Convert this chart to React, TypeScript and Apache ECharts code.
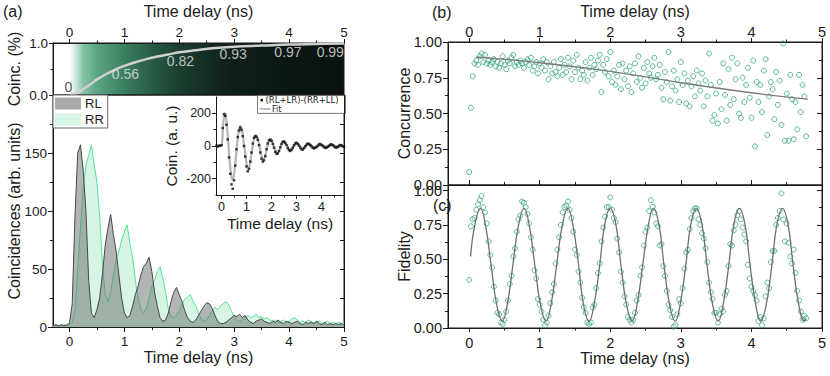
import { useEffect, useRef } from "react";
import * as echarts from "echarts";

const FONT = "'Liberation Sans', Arial, Helvetica, sans-serif";
const INK = "#1a1a1a";
const TEAL = "#33a57f";

// ---------- (a) top strip: coherence build-up ----------
const STRIP_T = [0, 0.1, 0.2, 0.3, 0.4, 0.5, 0.6, 0.7, 0.8, 0.9, 1.0, 1.2, 1.4, 1.6, 1.8, 2.0, 2.3, 2.6, 3.0, 3.5, 4.0, 4.5, 5.0];
const STRIP_V = [0, 0.02, 0.08, 0.15, 0.22, 0.3, 0.36, 0.42, 0.47, 0.52, 0.56, 0.63, 0.69, 0.74, 0.78, 0.82, 0.86, 0.9, 0.93, 0.95, 0.97, 0.98, 0.99];
const STRIP_LABELS = ["0", "0.56", "0.82", "0.93", "0.97", "0.99"];
const STRIP_LABEL_T = [-0.02, 1.02, 2.02, 2.98, 3.98, 4.75];
const STRIP_LABEL_V = [0.15, 0.4, 0.66, 0.79, 0.83, 0.83];

// ---------- (a) histograms ----------
const HIST_T0 = -0.3;
const HIST_DT = 0.05;
const RL = [
  1, 2, 1, 2, 1, 2, 3, 20, 95, 150,
  157, 135, 100, 40, 12, 8, 15, 25, 45, 70,
  85, 97, 80, 65, 45, 25, 12, 8, 10, 18,
  28, 35, 45, 52, 55, 60, 48, 30, 18, 8,
  5, 6, 12, 22, 30, 34, 28, 22, 14, 8,
  5, 4, 6, 10, 14, 18, 21, 20, 16, 10,
  5, 3, 3, 4, 6, 8, 10, 9, 11, 8,
  10, 6, 4, 3, 5, 6, 7, 5, 4, 3,
  5, 4, 6, 4, 3, 5, 4, 3, 4, 5,
  3, 2, 4, 3, 4, 3, 5, 3, 2, 4,
  2, 3, 2, 3, 2, 3, 2,
];
const RR = [
  1, 2, 1, 1, 2, 1, 2, 4, 15, 50,
  85, 120, 140, 148, 157, 140, 125, 95, 55, 28,
  22, 30, 45, 58, 65, 75, 82, 88, 72, 60,
  40, 25, 15, 12, 16, 25, 35, 40, 48, 52,
  42, 30, 16, 9, 8, 10, 14, 20, 24, 26,
  28, 22, 18, 12, 7, 5, 6, 10, 14, 17,
  15, 18, 20, 22, 19, 14, 9, 6, 5, 6,
  8, 10, 8, 9, 11, 8, 9, 7, 8, 6,
  5, 6, 4, 5, 6, 4, 5, 7, 8, 6,
  4, 5, 4, 6, 5, 3, 4, 5, 3, 4,
  5, 3, 4, 3, 4, 3, 4,
];

// ---------- (a) inset ----------
const INSET_T0 = -0.2;
const INSET_DT = 0.05;
const DIFF = [
  2, -3, 1, 3, 5,
  110, 195, 185, 130, 40, -70, -170, -235, -262, -210,
  -120, -20, 55, 95, 112, 98, 60, 0, -65, -125,
  -155, -140, -95, -40, 15, 50, 60, 55, 38, 5,
  -40, -78, -95, -88, -62, -20, 15, 35, 38, 30,
  12, -10, -35, -48, -45, -30, -8, 12, 25, 28,
  18, 5, -12, -25, -30, -22, -10, 5, 15, 20,
  12, 2, -10, -20, -22, -12, -2, 8, 15, 12,
  5, -2, -10, -15, -10, -5, 2, 10, 12, 6,
  0, -6, -12, -10, -4, 2, 8, 10, 5, -2,
  -8, -10, -5, 2, 6, 4, -2, -4,
];
const DIFF_FIT = [
  0, 0, 0, 0, 0,
  90, 185, 200, 150, 60, -40, -130, -190, -205, -175,
  -110, -30, 45, 100, 120, 110, 70, 10, -50, -105,
  -135, -130, -100, -50, 5, 45, 65, 65, 45, 15,
  -25, -60, -78, -78, -58, -25, 10, 32, 42, 38,
  22, -2, -25, -40, -42, -32, -12, 8, 22, 27,
  22, 10, -6, -20, -26, -24, -14, 0, 12, 18,
  16, 8, -4, -14, -18, -15, -7, 3, 11, 13,
  10, 3, -5, -10, -12, -9, -3, 4, 8, 9,
  6, 1, -4, -7, -7, -4, 0, 4, 6, 5,
  2, -2, -5, -5, -3, 0, 3, 4,
];

// ---------- (b) concurrence, (c) fidelity ----------
const POINT_T0 = 0;
const POINT_DT = 0.025;
const CONC = [
  0.09, 0.54, 0.76, 0.85, 0.87, 0.84, 0.9, 0.92, 0.86, 0.91,
  0.85, 0.87, 0.84, 0.86, 0.88, 0.83, 0.86, 0.82, 0.85, 0.9,
  0.84, 0.81, 0.87, 0.85, 0.89, 0.91, 0.83, 0.86, 0.84, 0.87,
  0.85, 0.82, 0.86, 0.88, 0.84, 0.89, 0.8, 0.83, 0.86, 0.78,
  0.85, 0.82, 0.88, 0.8, 0.86, 0.74, 0.83, 0.78, 0.86, 0.79,
  0.76, 0.82, 0.88, 0.77, 0.84, 0.79, 0.89, 0.83, 0.74, 0.87,
  0.79, 0.91, 0.82, 0.74, 0.8, 0.77, 0.86, 0.73, 0.82, 0.89,
  0.77, 0.84, 0.81, 0.87, 0.91, 0.65, 0.84, 0.79, 0.88, 0.76,
  0.93, 0.72, 0.8, 0.7, 0.76, 0.84, 0.67, 0.85, 0.74, 0.8,
  0.69, 0.83, 0.65, 0.78, 0.85, 0.72, 0.9, 0.75, 0.68, 0.82,
  0.71, 0.86, 0.78, 0.75, 0.83, 0.89, 0.74, 0.77, 0.84, 0.68,
  0.6, 0.79, 0.72, 0.93, 0.59, 0.69, 0.8, 0.66, 0.74, 0.58,
  0.86, 0.7, 0.78, 0.57, 0.73, 0.55, 0.69, 0.76, 0.62, 0.8,
  0.71, 0.66, 0.78, 0.55, 0.73, 0.62, 0.92, 0.7, 0.45, 0.49,
  0.64, 0.43, 0.72, 0.53, 0.85, 0.63, 0.45, 0.81, 0.56, 0.89,
  0.6, 0.74, 0.85, 0.5, 0.47, 0.75, 0.58, 0.7, 0.82, 0.61,
  0.47, 0.87, 0.27, 0.72, 0.58, 0.7, 0.51, 0.8, 0.88, 0.35,
  0.62, 0.72, 0.67, 0.46, 0.79, 0.56, 0.73, 0.42, 0.99, 0.31,
  0.64, 0.31, 0.77, 0.6, 0.32, 0.58, 0.39, 0.77, 0.51, 0.7,
  0.62, 0.34,
];
const CONC_FIT_T = [0.1, 1, 2, 3, 4, 4.8];
const CONC_FIT_V = [0.895, 0.855, 0.795, 0.715, 0.645, 0.6];

const FID = [
  0.35, 0.74, 0.79, 0.8, 0.86, 0.9, 0.93, 0.96, 0.88, 0.84,
  0.76, 0.63, 0.53, 0.44, 0.3, 0.2, 0.11, 0.1, 0.04, 0.03,
  0.06, 0.12, 0.2, 0.32, 0.38, 0.52, 0.58, 0.7, 0.79, 0.82,
  0.92, 0.91, 0.88, 0.83, 0.76, 0.66, 0.57, 0.42, 0.36, 0.21,
  0.17, 0.12, 0.06, 0.02, 0.04, 0.09, 0.18, 0.26, 0.32, 0.47,
  0.57, 0.66, 0.75, 0.84, 0.88, 0.89, 0.92, 0.86, 0.8, 0.7,
  0.57, 0.53, 0.41, 0.33, 0.22, 0.15, 0.11, 0.04, 0.03, 0.04,
  0.15, 0.17, 0.29, 0.4, 0.47, 0.63, 0.73, 0.81, 0.88, 0.88,
  0.95, 0.86, 0.8, 0.77, 0.65, 0.55, 0.41, 0.33, 0.23, 0.17,
  0.08, 0.06, 0.04, 0.06, 0.11, 0.2, 0.24, 0.38, 0.44, 0.6,
  0.7, 0.73, 0.85, 0.93, 0.88, 0.84, 0.76, 0.74, 0.6, 0.61,
  0.45, 0.38, 0.27, 0.17, 0.13, 0.08, 0.01, 0.02, 0.1, 0.21,
  0.18, 0.29, 0.43, 0.55, 0.57, 0.72, 0.8, 0.85, 0.87, 0.87,
  0.79, 0.75, 0.69, 0.65, 0.58, 0.48, 0.33, 0.26, 0.21, 0.11,
  0.11, 0.04, 0.1, 0.14, 0.12, 0.24, 0.27, 0.45, 0.61, 0.6,
  0.71, 0.75, 0.82, 0.85, 0.79, 0.73, 0.68, 0.63, 0.46, 0.36,
  0.3, 0.27, 0.24, 0.2, 0.05, 0.08, 0.02, 0.07, 0.23, 0.33,
  0.29, 0.48, 0.56, 0.56, 0.75, 0.8, 0.85, 0.98, 0.79, 0.63,
  0.76, 0.62, 0.52, 0.47, 0.57, 0.4, 0.27, 0.2, 0.12, 0.06,
  0.09, 0.07,
];
const FID_FIT_T = [
  0.02, 0.08, 0.16, 0.23, 0.31, 0.39, 0.47, 0.54, 0.62, 0.7,
  0.78, 0.85, 0.93, 1.01, 1.09, 1.16, 1.24, 1.32, 1.4, 1.47,
  1.55, 1.62, 1.7, 1.77, 1.85, 1.92, 2.0, 2.08, 2.15, 2.23,
  2.31, 2.38, 2.46, 2.54, 2.61, 2.69, 2.76, 2.84, 2.92, 2.99,
  3.07, 3.14, 3.22, 3.3, 3.37, 3.45, 3.53, 3.6, 3.68, 3.75,
  3.83, 3.91, 3.98, 4.06, 4.13, 4.21, 4.29, 4.36, 4.44, 4.52,
  4.59, 4.67, 4.75, 4.78,
];
const FID_FIT_V = [
  0.52, 0.75, 0.87, 0.75, 0.46, 0.17, 0.05, 0.17, 0.46, 0.75,
  0.87, 0.75, 0.46, 0.17, 0.05, 0.17, 0.46, 0.75, 0.87, 0.75,
  0.46, 0.17, 0.05, 0.17, 0.46, 0.75, 0.87, 0.75, 0.46, 0.17,
  0.05, 0.17, 0.46, 0.75, 0.87, 0.75, 0.46, 0.17, 0.05, 0.17,
  0.46, 0.75, 0.87, 0.75, 0.46, 0.17, 0.05, 0.17, 0.46, 0.75,
  0.87, 0.75, 0.46, 0.17, 0.05, 0.17, 0.46, 0.75, 0.87, 0.75,
  0.46, 0.17, 0.05, 0.07,
];

// tick sets
const X_MAJOR = [0, 1, 2, 3, 4, 5];
const X_MINOR = [0.5, 1.5, 2.5, 3.5, 4.5];
const Y01_MAJOR = [0, 0.25, 0.5, 0.75, 1];
const Y01_MINOR = [0.125, 0.375, 0.625, 0.875];

const grid = (t0: number, dt: number, vals: number[]) =>
  vals.map((v, i) => [+(t0 + i * dt).toFixed(4), v]);
const zip = (a: number[], b: number[]) => a.map((x, i) => [x, b[i]]);

type AxSpec = {
  grid: number;
  pos: string;
  min: number;
  max: number;
  ticks?: number[];
  tickLen?: number;
  inside?: boolean;
  minor?: number[];
  minorLen?: number;
  labels?: number[];
  fmt?: (v: number) => string;
  fontSize?: number;
  margin?: number;
  name?: string;
  nameGap?: number;
  nameSize?: number;
  line?: boolean;
};

function buildAxes(s: AxSpec): any[] {
  const common = {
    type: "value",
    gridIndex: s.grid,
    position: s.pos,
    min: s.min,
    max: s.max,
    splitLine: { show: false },
    silent: true,
  };
  const out: any[] = [
    {
      ...common,
      axisLine: { show: s.line !== false, onZero: false, lineStyle: { color: INK, width: 1 } },
      axisTick: {
        show: !!s.ticks,
        inside: !!s.inside,
        length: s.tickLen ?? 4,
        customValues: s.ticks ?? [0],
        lineStyle: { color: INK, width: 1 },
      },
      axisLabel: {
        show: !!s.labels,
        customValues: s.labels ?? [0],
        formatter: s.fmt ?? ((v: number) => String(v)),
        fontSize: s.fontSize ?? 13,
        color: INK,
        fontFamily: FONT,
        margin: s.margin ?? 6,
      },
      name: s.name,
      nameLocation: "middle",
      nameGap: s.nameGap ?? 25,
      nameMoveOverlap: false,
      nameTextStyle: { fontSize: s.nameSize ?? 16, color: INK, fontFamily: FONT },
    },
  ];
  if (s.minor) {
    out.push({
      ...common,
      axisLine: { show: false, onZero: false },
      axisTick: {
        show: true,
        inside: !!s.inside,
        length: s.minorLen ?? 2.5,
        customValues: s.minor,
        lineStyle: { color: INK, width: 1 },
      },
      axisLabel: { show: false },
    });
  }
  return out;
}

function buildOption() {
  const xAxis: any[] = [];
  const yAxis: any[] = [];
  const addX = (s: AxSpec) => {
    const i = xAxis.length;
    xAxis.push(...buildAxes(s));
    return i;
  };
  const addY = (s: AxSpec) => {
    const i = yAxis.length;
    yAxis.push(...buildAxes(s));
    return i;
  };
  const f1 = (v: number) => v.toFixed(1);
  const f2 = (v: number) => v.toFixed(2);

  // grid 0: strip
  const x0 = addX({ grid: 0, pos: "top", min: -0.3, max: 5, ticks: X_MAJOR, tickLen: 4, minor: X_MINOR, labels: X_MAJOR, fontSize: 13.5, margin: 4, name: "Time delay (ns)", nameGap: 24 });
  const y0 = addY({ grid: 0, pos: "left", min: 0, max: 1, ticks: [0, 1], tickLen: 4, minor: [0.5], labels: [0, 1], fmt: f1, fontSize: 13.5, margin: 5, name: "Coinc. (%)", nameGap: 31 });
  // grid 1: histogram
  const x1 = addX({ grid: 1, pos: "bottom", min: -0.3, max: 5, ticks: X_MAJOR, tickLen: 5, minor: X_MINOR, minorLen: 3, labels: X_MAJOR, fontSize: 13.5, margin: 7, name: "Time delay (ns)", nameGap: 22 });
  const y1 = addY({ grid: 1, pos: "left", min: 0, max: 200, ticks: [0, 50, 100, 150], tickLen: 5, minor: [25, 75, 125, 175], minorLen: 3, labels: [0, 50, 100, 150], fontSize: 13.5, margin: 6, name: "Coincidences (arb. units)", nameGap: 31 });
  addY({ grid: 1, pos: "right", min: 0, max: 200, ticks: [0, 25, 50, 75, 100, 125, 150, 175], tickLen: 4, inside: true });
  // grid 2: inset
  const x2 = addX({ grid: 2, pos: "bottom", min: -0.22, max: 4.9, ticks: [0, 1, 2, 3, 4], tickLen: 4, minor: [0.5, 1.5, 2.5, 3.5, 4.5], labels: [0, 1, 2, 3, 4], fontSize: 12.5, margin: 5, name: "Time delay (ns)", nameGap: 20, nameSize: 15.5 });
  const y2 = addY({ grid: 2, pos: "left", min: -300, max: 300, ticks: [-200, 0, 200], tickLen: 4, minor: [-100, 100], labels: [-200, 0, 200], fontSize: 12.5, margin: 5, name: "Coin. (a. u.)", nameGap: 37, nameSize: 15.5 });
  // grid 3: concurrence
  const x3 = addX({ grid: 3, pos: "top", min: -0.3, max: 5, ticks: X_MAJOR, tickLen: 4, minor: X_MINOR, labels: X_MAJOR, fontSize: 14.5, margin: 3, name: "Time delay (ns)", nameGap: 23 });
  addX({ grid: 3, pos: "bottom", min: -0.3, max: 5, ticks: X_MAJOR, tickLen: 5, inside: true, minor: X_MINOR, minorLen: 3 });
  const y3 = addY({ grid: 3, pos: "left", min: 0, max: 1, ticks: Y01_MAJOR, tickLen: 5, minor: Y01_MINOR, minorLen: 3, labels: Y01_MAJOR, fmt: f2, fontSize: 14.5, margin: 6, name: "Concurrence", nameGap: 36 });
  addY({ grid: 3, pos: "right", min: 0, max: 1, ticks: Y01_MAJOR, tickLen: 5, inside: true, minor: Y01_MINOR, minorLen: 3 });
  // grid 4: fidelity
  const x4 = addX({ grid: 4, pos: "bottom", min: -0.3, max: 5, ticks: X_MAJOR, tickLen: 4, minor: X_MINOR, labels: X_MAJOR, fontSize: 14.5, margin: 7, name: "Time delay (ns)", nameGap: 22 });
  const y4 = addY({ grid: 4, pos: "left", min: 0, max: 1.04, ticks: Y01_MAJOR, tickLen: 5, minor: Y01_MINOR, minorLen: 3, labels: Y01_MAJOR, fmt: f2, fontSize: 14.5, margin: 6, name: "Fidelity", nameGap: 36 });
  addY({ grid: 4, pos: "right", min: 0, max: 1.04, ticks: Y01_MAJOR, tickLen: 5, inside: true, minor: Y01_MINOR, minorLen: 3 });

  const stripGradient = new echarts.graphic.LinearGradient(0, 0, 1, 0, [
    { offset: 0, color: "#ffffff" },
    { offset: 0.057, color: "#ffffff" },
    { offset: 0.075, color: "#d5ebe1" },
    { offset: 0.104, color: "#86c4a6" },
    { offset: 0.151, color: "#5aa584" },
    { offset: 0.245, color: "#3b7f61" },
    { offset: 0.34, color: "#285b45" },
    { offset: 0.434, color: "#1b3f30" },
    { offset: 0.528, color: "#142c22" },
    { offset: 0.623, color: "#0f1f18" },
    { offset: 0.81, color: "#0b1612" },
    { offset: 1, color: "#0a120e" },
  ]);

  const frame = { show: true, borderColor: INK, borderWidth: 1, outerBoundsMode: "none", containLabel: false };

  return {
    animation: false,
    backgroundColor: "#ffffff",
    textStyle: { fontFamily: FONT },
    grid: [
      { ...frame, left: 53, top: 43, width: 291, height: 52, backgroundColor: stripGradient },
      { ...frame, left: 53, top: 95, width: 291, height: 232, backgroundColor: "transparent" },
      { show: false, left: 216, top: 97, width: 128, height: 98, outerBoundsMode: "none", containLabel: false },
      { ...frame, left: 448, top: 42, width: 374, height: 143, backgroundColor: "transparent" },
      { ...frame, left: 448, top: 185, width: 374, height: 143, backgroundColor: "transparent" },
    ],
    xAxis,
    yAxis,
    legend: [
      {
        left: 53,
        top: 95,
        orient: "vertical",
        icon: "rect",
        itemWidth: 26,
        itemHeight: 12,
        itemGap: 3,
        padding: [2, 4, 2, 2],
        borderColor: "#666",
        borderWidth: 1,
        backgroundColor: "#ffffff",
        selectedMode: false,
        textStyle: { fontSize: 13, color: INK, fontFamily: FONT, padding: [0, 0, 0, -1] },
        itemStyle: { borderWidth: 0 },
        data: [
          { name: "RL", itemStyle: { color: "#a9a9a9", borderWidth: 0 } },
          { name: "RR", itemStyle: { color: "#d6f5e5", borderWidth: 0 } },
        ],
        z: 10,
      },
    ],
    graphic: [
      { type: "text", left: 3, top: 3, style: { text: "(a)", fontSize: 16, fill: INK, fontFamily: FONT } },
      { type: "text", left: 432, top: 4, style: { text: "(b)", fontSize: 16, fill: INK, fontFamily: FONT } },
      { type: "text", left: 433, top: 197, style: { text: "(c)", fontSize: 16, fill: INK, fontFamily: FONT } },
      // inset legend
      {
        type: "group",
        left: 257,
        top: 95,
        z: 20,
        children: [
          { type: "rect", shape: { x: 0, y: 0, width: 88, height: 18 }, style: { fill: "#ffffff", stroke: "#555", lineWidth: 0.8 } },
          { type: "rect", shape: { x: 3, y: 3.5, width: 2.5, height: 2.5 }, style: { fill: "#111" } },
          { type: "text", x: 8, y: 5, style: { text: "(RL+LR)-(RR+LL)", fontSize: 8.5, fill: INK, fontFamily: "'DejaVu Sans', sans-serif", verticalAlign: "middle" } },
          { type: "line", shape: { x1: 2, y1: 13.5, x2: 13, y2: 13.5 }, style: { stroke: "#aaaaaa", lineWidth: 1.5 } },
          { type: "text", x: 14.5, y: 13.8, style: { text: "Fit", fontSize: 8, fill: INK, fontFamily: "'DejaVu Sans', sans-serif", verticalAlign: "middle" } },
        ],
      },
    ],
    series: [
      {
        name: "coherence",
        type: "line",
        xAxisIndex: x0,
        yAxisIndex: y0,
        data: zip(STRIP_T, STRIP_V),
        showSymbol: false,
        smooth: 0.4,
        lineStyle: { color: "#cfcfcf", width: 2.5 },
        z: 3,
      },
      {
        name: "stripLabels",
        type: "scatter",
        xAxisIndex: x0,
        yAxisIndex: y0,
        symbolSize: 1,
        itemStyle: { color: "rgba(0,0,0,0)" },
        data: STRIP_LABEL_T.map((t, i) => ({
          value: [t, STRIP_LABEL_V[i]],
          label: { color: i === 0 ? "#1a1a1a" : "#e4e4e4" },
        })),
        label: {
          show: true,
          position: "inside",
          fontSize: 14,
          fontFamily: FONT,
          formatter: (p: any) => STRIP_LABELS[p.dataIndex],
        },
        z: 4,
      },
      {
        name: "RR",
        type: "line",
        xAxisIndex: x1,
        yAxisIndex: y1,
        data: grid(HIST_T0, HIST_DT, RR),
        showSymbol: false,
        symbol: "none",
        lineStyle: { color: "#55e394", width: 1 },
        itemStyle: { color: "#d6f5e5" },
        areaStyle: { color: "#d6f5e5", opacity: 1 },
        z: 2,
      },
      {
        name: "RL",
        type: "line",
        xAxisIndex: x1,
        yAxisIndex: y1,
        data: grid(HIST_T0, HIST_DT, RL),
        showSymbol: false,
        symbol: "none",
        lineStyle: { color: "#474747", width: 1 },
        itemStyle: { color: "#a9a9a9" },
        areaStyle: { color: "rgba(100,110,105,0.5)", opacity: 1 },
        z: 3,
      },
      {
        name: "Fit",
        type: "line",
        xAxisIndex: x2,
        yAxisIndex: y2,
        data: grid(INSET_T0, INSET_DT, DIFF_FIT),
        showSymbol: false,
        symbol: "none",
        smooth: 0.4,
        lineStyle: { color: "#b5b5b5", width: 2.2 },
        z: 3,
      },
      {
        name: "(RL+LR)-(RR+LL)",
        type: "scatter",
        xAxisIndex: x2,
        yAxisIndex: y2,
        data: grid(INSET_T0, INSET_DT, DIFF),
        symbol: "rect",
        symbolSize: 2.5,
        itemStyle: { color: "#111111" },
        z: 4,
      },
      {
        name: "Concurrence",
        type: "scatter",
        xAxisIndex: x3,
        yAxisIndex: y3,
        data: grid(POINT_T0, POINT_DT, CONC),
        symbol: "circle",
        symbolSize: 5,
        itemStyle: { color: "rgba(255,255,255,0)", borderColor: TEAL, borderWidth: 1 },
        z: 3,
      },
      {
        name: "Concurrence fit",
        type: "line",
        xAxisIndex: x3,
        yAxisIndex: y3,
        data: zip(CONC_FIT_T, CONC_FIT_V),
        showSymbol: false,
        symbol: "none",
        smooth: 0.4,
        lineStyle: { color: "#7c7c7c", width: 1.3 },
        z: 4,
      },
      {
        name: "Fidelity",
        type: "scatter",
        xAxisIndex: x4,
        yAxisIndex: y4,
        data: grid(POINT_T0, POINT_DT, FID),
        symbol: "circle",
        symbolSize: 5,
        itemStyle: { color: "rgba(255,255,255,0)", borderColor: TEAL, borderWidth: 1 },
        z: 3,
      },
      {
        name: "Fidelity fit",
        type: "line",
        xAxisIndex: x4,
        yAxisIndex: y4,
        data: zip(FID_FIT_T, FID_FIT_V),
        showSymbol: false,
        symbol: "none",
        smooth: 0.45,
        lineStyle: { color: "#6f6f6f", width: 1.3 },
        z: 4,
      },
    ],
  };
}

export default function App() {
  const ref = useRef<HTMLDivElement>(null);
  useEffect(() => {
    document.body.style.margin = "0";
    if (!ref.current) return;
    const chart = echarts.init(ref.current, null, { renderer: "svg" });
    chart.setOption(buildOption() as any);
    return () => chart.dispose();
  }, []);
  return <div ref={ref} style={{ width: 830, height: 376 }} />;
}
